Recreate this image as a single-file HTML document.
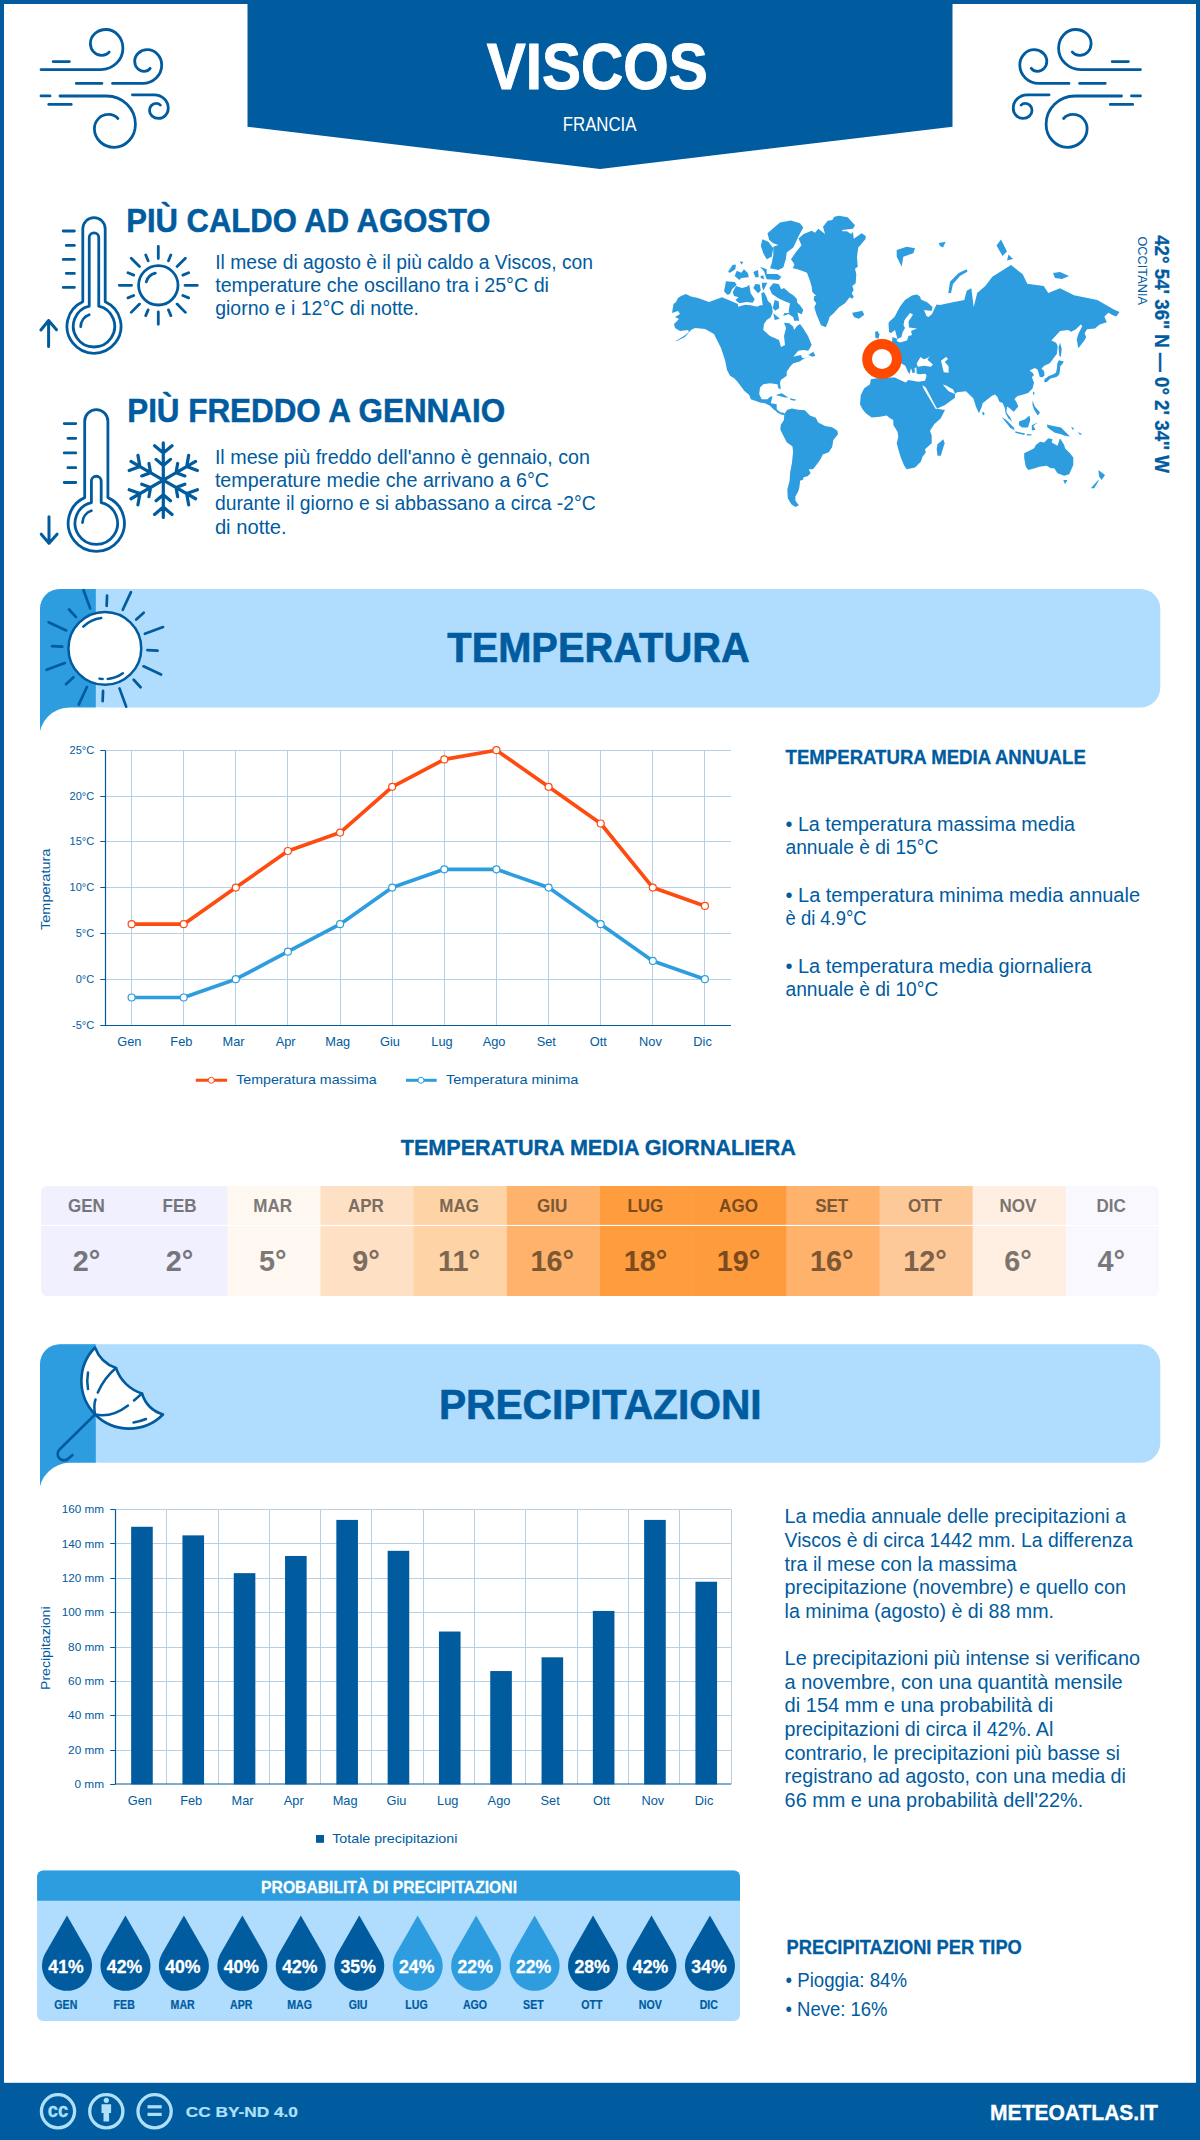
<!DOCTYPE html>
<html><head><meta charset="utf-8"><title>Viscos - Clima</title>
<style>html,body{margin:0;padding:0;background:#fff;width:1200px;height:2140px;overflow:hidden}
svg{display:block;font-family:"Liberation Sans",sans-serif}</style></head>
<body><svg width="1200" height="2140" viewBox="0 0 1200 2140">
<rect x="0" y="0" width="1200" height="2140" fill="#fff"/>
<rect x="0" y="0" width="1200" height="4" fill="#005b9f"/>
<rect x="0" y="0" width="4" height="2140" fill="#005b9f"/>
<rect x="1196" y="0" width="4" height="2140" fill="#005b9f"/>
<path d="M247.5,0 H952.5 V126.7 L600,169 L247.5,126.7Z" fill="#005b9f"/>
<text x="597.3" y="88.5" font-size="65.54" font-weight="bold" fill="#fff" stroke="#fff" stroke-width="1.00" stroke-linejoin="round" text-anchor="middle" textLength="221.0" lengthAdjust="spacingAndGlyphs">VISCOS</text>
<text x="599.6" y="130.9" font-size="20.20" fill="#fff" text-anchor="middle" textLength="73.7" lengthAdjust="spacingAndGlyphs">FRANCIA</text>
<path d="M53.1,61.6 H69.4 M41,69.6 H100.75 A22.15,21.4 0 0 0 122.9,48.2 A16.9,18.7 0 0 0 106,29.5 A15.6,13.9 0 0 0 90.4,43.4 A11.1,12 0 0 0 101.5,55.4 A9,8 0 0 0 109.2,52 M76.25,83.4 H101.9 M112.5,83.4 H142.7 A19,18.3 0 0 0 161.7,65 A14.4,15.3 0 0 0 147.3,49.7 A12.6,11.6 0 0 0 134.7,61.3 A9.3,10 0 0 0 144,71.3 A7.5,6.5 0 0 0 150.2,68.3 M41,95.9 H50 M60,96 H106.7 A28.7,28.2 0 0 1 135.4,124.2 A21.2,23.1 0 0 1 114.2,147.3 A19.8,18.55 0 0 1 94.4,128.75 A13.9,14.35 0 0 1 108.3,114.4 A11.5,10 0 0 1 117.9,118.5 M48.75,104.4 H71.25 M132.4,94.8 H154.4 A13.85,13.45 0 0 1 168.25,108.25 A9.75,10.15 0 0 1 158.5,118.4 A9,7.9 0 0 1 149.5,110.5 A6.4,7.1 0 0 1 155.9,103.4 A5.5,4.5 0 0 1 160.4,105.1 " fill="none" stroke="#005b9f" stroke-width="2.8" stroke-linecap="round"/>
<path d="M53.1,61.6 H69.4 M41,69.6 H100.75 A22.15,21.4 0 0 0 122.9,48.2 A16.9,18.7 0 0 0 106,29.5 A15.6,13.9 0 0 0 90.4,43.4 A11.1,12 0 0 0 101.5,55.4 A9,8 0 0 0 109.2,52 M76.25,83.4 H101.9 M112.5,83.4 H142.7 A19,18.3 0 0 0 161.7,65 A14.4,15.3 0 0 0 147.3,49.7 A12.6,11.6 0 0 0 134.7,61.3 A9.3,10 0 0 0 144,71.3 A7.5,6.5 0 0 0 150.2,68.3 M41,95.9 H50 M60,96 H106.7 A28.7,28.2 0 0 1 135.4,124.2 A21.2,23.1 0 0 1 114.2,147.3 A19.8,18.55 0 0 1 94.4,128.75 A13.9,14.35 0 0 1 108.3,114.4 A11.5,10 0 0 1 117.9,118.5 M48.75,104.4 H71.25 M132.4,94.8 H154.4 A13.85,13.45 0 0 1 168.25,108.25 A9.75,10.15 0 0 1 158.5,118.4 A9,7.9 0 0 1 149.5,110.5 A6.4,7.1 0 0 1 155.9,103.4 A5.5,4.5 0 0 1 160.4,105.1 " fill="none" stroke="#005b9f" stroke-width="2.8" stroke-linecap="round" transform="translate(1181.5,0) scale(-1,1)"/>
<rect x="0" y="2082.8" width="1200" height="60" fill="#005b9f"/>
<circle cx="58.0" cy="2111.3" r="16.6" fill="none" stroke="#aee0fa" stroke-width="3.3"/>
<circle cx="106.3" cy="2111.3" r="16.6" fill="none" stroke="#aee0fa" stroke-width="3.3"/>
<circle cx="154.6" cy="2111.3" r="16.6" fill="none" stroke="#aee0fa" stroke-width="3.3"/>
<text x="57.9" y="2116.8" font-size="20.54" font-weight="bold" fill="#aee0fa" stroke="#aee0fa" stroke-width="0.32" stroke-linejoin="round" text-anchor="middle" textLength="20.5" lengthAdjust="spacingAndGlyphs">cc</text>
<circle cx="106.3" cy="2100.3" r="2.6" fill="#aee0fa"/>
<path d="M101.5,2104.2 H111.1 V2113 H109.1 V2121.6 H103.5 V2113 H101.5Z" fill="#aee0fa"/>
<rect x="147.5" y="2105.2" width="14.2" height="3.2" fill="#aee0fa"/>
<rect x="147.5" y="2112.8" width="14.2" height="3.2" fill="#aee0fa"/>
<text x="185.8" y="2116.9" font-size="14.67" font-weight="bold" fill="#aee0fa" stroke="#aee0fa" stroke-width="0.22" stroke-linejoin="round" text-anchor="start" textLength="112.1" lengthAdjust="spacingAndGlyphs">CC BY-ND 4.0</text>
<text x="990.1" y="2119.7" font-size="22.60" font-weight="bold" fill="#fff" stroke="#fff" stroke-width="0.35" stroke-linejoin="round" text-anchor="start" textLength="167.8" lengthAdjust="spacingAndGlyphs">METEOATLAS.IT</text>
<path d="M82.80,301.73 V228.80 A11.20,11.20 0 0 1 105.20,228.80 V301.73 A27.00,27.00 0 1 1 82.80,301.73 Z M89.25,306.15 V237.55 A4.75,4.75 0 0 1 98.75,237.55 V306.15 A20.70,20.70 0 1 1 89.25,306.15 Z M80.70,326.70 A13,13 0 0 1 89.10,314.80 M63.20,231.00 H74.40 M66.30,245.40 H74.40 M63.20,259.40 H74.40 M66.30,273.40 H74.40 M63.20,287.40 H74.40" fill="none" stroke="#005b9f" stroke-linecap="round" stroke-linejoin="round" stroke-width="2.8"/>
<path d="M48.6,346.5 V320.5 M40.9,330 L48.6,320.5 L56.5,329.75" fill="none" stroke="#005b9f" stroke-linecap="round" stroke-linejoin="round" stroke-width="3"/>
<path d="M158.30,285.30 m-19.70,0 a19.70,19.70 0 1 0 39.40,0 a19.70,19.70 0 1 0 -39.40,0 M185.00,285.30 L197.30,285.30 M182.88,295.48 L188.60,297.85 M177.11,304.11 L185.38,312.38 M168.48,309.88 L170.85,315.60 M158.30,312.00 L158.30,324.30 M148.12,309.88 L145.75,315.60 M139.49,304.11 L131.22,312.38 M133.72,295.48 L128.00,297.85 M131.60,285.30 L119.30,285.30 M133.72,275.12 L128.00,272.75 M139.49,266.49 L131.22,258.22 M148.12,260.72 L145.75,255.00 M158.30,258.60 L158.30,246.30 M168.48,260.72 L170.85,255.00 M177.11,266.49 L185.38,258.22 M182.88,275.12 L188.60,272.75 M146.28,281.85 A12.5,12.5 0 0 1 155.28,273.17" fill="none" stroke="#005b9f" stroke-linecap="round" stroke-linejoin="round" stroke-width="2.8"/>
<path d="M84.70,497.61 V421.20 A11.60,11.60 0 0 1 107.90,421.20 V497.61 A28.10,28.10 0 1 1 84.70,497.61 Z M91.40,502.52 V481.15 A4.90,4.90 0 0 1 101.20,481.15 V502.52 A21.25,21.25 0 1 1 91.40,502.52 Z M82.50,522.50 A13,13 0 0 1 91.25,510.80 M64.20,423.60 H75.80 M67.90,438.30 H75.80 M64.20,452.90 H75.80 M67.90,467.70 H75.80 M64.20,482.50 H75.80" fill="none" stroke="#005b9f" stroke-linecap="round" stroke-linejoin="round" stroke-width="2.8"/>
<path d="M49,516.7 V543.3 M41.25,534.2 L49,543.3 L57.1,534.2" fill="none" stroke="#005b9f" stroke-linecap="round" stroke-linejoin="round" stroke-width="3"/>
<path d=" M163.30,480.10 L163.30,442.80 M163.30,453.10 L154.57,445.77 M163.30,453.10 L172.03,445.77 M163.30,465.40 L156.10,459.36 M163.30,465.40 L170.50,459.36 M163.30,480.10 L195.60,461.45 M186.68,466.60 L188.66,455.37 M186.68,466.60 L197.40,470.50 M176.03,472.75 L177.66,463.49 M176.03,472.75 L184.86,475.96 M163.30,480.10 L195.60,498.75 M186.68,493.60 L197.40,489.70 M186.68,493.60 L188.66,504.83 M176.03,487.45 L184.86,484.24 M176.03,487.45 L177.66,496.71 M163.30,480.10 L163.30,517.40 M163.30,507.10 L172.03,514.43 M163.30,507.10 L154.57,514.43 M163.30,494.80 L170.50,500.84 M163.30,494.80 L156.10,500.84 M163.30,480.10 L131.00,498.75 M139.92,493.60 L137.94,504.83 M139.92,493.60 L129.20,489.70 M150.57,487.45 L148.94,496.71 M150.57,487.45 L141.74,484.24 M163.30,480.10 L131.00,461.45 M139.92,466.60 L129.20,470.50 M139.92,466.60 L137.94,455.37 M150.57,472.75 L141.74,475.96 M150.57,472.75 L148.94,463.49" fill="none" stroke="#005b9f" stroke-linecap="round" stroke-linejoin="round" stroke-width="3.2"/>
<text x="126.2" y="231.6" font-size="32.38" font-weight="bold" fill="#005b9f" stroke="#005b9f" stroke-width="0.50" stroke-linejoin="round" text-anchor="start" textLength="364.3" lengthAdjust="spacingAndGlyphs">PIÙ CALDO AD AGOSTO</text>
<text x="215.2" y="268.6" font-size="19.30" fill="#005b9f" text-anchor="start" textLength="377.8" lengthAdjust="spacingAndGlyphs">Il mese di agosto è il più caldo a Viscos, con</text>
<text x="215.2" y="291.9" font-size="19.30" fill="#005b9f" text-anchor="start" textLength="333.8" lengthAdjust="spacingAndGlyphs">temperature che oscillano tra i 25°C di</text>
<text x="215.2" y="315.2" font-size="19.30" fill="#005b9f" text-anchor="start" textLength="203.8" lengthAdjust="spacingAndGlyphs">giorno e i 12°C di notte.</text>
<text x="127.2" y="421.6" font-size="32.38" font-weight="bold" fill="#005b9f" stroke="#005b9f" stroke-width="0.50" stroke-linejoin="round" text-anchor="start" textLength="377.9" lengthAdjust="spacingAndGlyphs">PIÙ FREDDO A GENNAIO</text>
<text x="214.9" y="463.5" font-size="19.30" fill="#005b9f" text-anchor="start" textLength="375.1" lengthAdjust="spacingAndGlyphs">Il mese più freddo dell'anno è gennaio, con</text>
<text x="214.9" y="486.8" font-size="19.30" fill="#005b9f" text-anchor="start" textLength="334.1" lengthAdjust="spacingAndGlyphs">temperature medie che arrivano a 6°C</text>
<text x="214.9" y="510.1" font-size="19.30" fill="#005b9f" text-anchor="start" textLength="380.9" lengthAdjust="spacingAndGlyphs">durante il giorno e si abbassano a circa -2°C</text>
<text x="214.9" y="533.9" font-size="19.30" fill="#005b9f" text-anchor="start" textLength="71.8" lengthAdjust="spacingAndGlyphs">di notte.</text>
<g fill="#2e9ddf">
<path d="M673.5,304.0 L676.0,302.0 L678.0,298.0 L681.0,296.0 L686.0,294.0 L691.0,296.5 L698.0,298.0 L709.0,302.0 L722.0,297.3 L728.7,300.0 L738.0,304.0 L738.0,306.7 L745.3,304.7 L750.7,305.3 L757.3,306.7 L760.0,305.3 L762.7,305.3 L761.3,293.3 L764.0,292.0 L766.7,297.3 L768.0,301.3 L770.7,303.3 L772.0,306.7 L772.7,312.0 L770.7,317.3 L766.7,320.0 L764.0,324.0 L763.3,330.0 L770.0,336.0 L779.0,340.0 L781.0,347.0 L785.0,345.0 L784.0,336.0 L786.0,328.0 L784.0,322.7 L789.3,323.3 L793.3,326.7 L794.0,330.0 L797.0,326.0 L800.0,324.0 L803.0,328.0 L808.0,336.0 L811.7,345.0 L808.3,350.8 L803.3,350.0 L798.3,350.8 L793.3,356.7 L800.8,355.0 L802.5,358.3 L805.8,357.5 L799.2,361.7 L793.3,363.3 L790.0,366.7 L786.7,371.7 L786.7,375.8 L780.8,380.0 L780.0,383.3 L780.8,389.2 L778.3,388.3 L777.5,384.2 L770.0,383.3 L763.3,384.2 L760.0,387.5 L759.2,394.2 L761.7,399.2 L767.5,399.2 L770.0,396.7 L772.5,396.2 L770.8,403.3 L776.7,404.2 L776.7,409.2 L780.8,412.5 L783.3,412.5 L785.0,415.0 L780.0,413.3 L774.2,410.0 L770.0,405.8 L765.0,403.3 L760.0,402.5 L750.8,399.2 L749.2,395.0 L744.2,390.8 L737.5,381.7 L734.2,378.3 L730.0,375.8 L727.0,370.0 L725.0,360.0 L721.0,348.0 L714.0,334.0 L705.0,329.0 L695.0,328.0 L691.0,330.0 L685.0,337.0 L677.0,341.0 L675.0,341.5 L684.0,336.0 L689.0,332.0 L688.0,330.0 L680.0,331.0 L675.0,328.0 L674.0,324.0 L679.0,319.0 L675.0,317.0 L680.0,314.0 L678.0,311.0 L672.0,313.0Z"/>
<path d="M775.0,408.5 L777.9,412.0 L780.8,413.2 L784.3,413.8 L787.3,409.7 L791.9,408.5 L798.3,409.7 L804.8,410.3 L810.0,415.5 L815.8,417.8 L818.2,422.5 L825.2,426.0 L832.2,427.2 L837.4,430.7 L838.0,434.2 L833.3,440.0 L832.2,447.0 L828.7,452.3 L822.8,454.6 L820.5,459.3 L815.8,465.7 L812.9,469.2 L808.8,469.2 L810.6,473.3 L807.7,476.2 L803.6,477.3 L803.0,479.7 L800.1,480.8 L799.5,486.7 L798.3,491.3 L795.4,496.6 L795.4,500.7 L798.9,505.3 L795.4,507.1 L791.3,504.2 L787.8,498.3 L787.3,489.6 L789.6,480.8 L790.2,472.1 L791.9,463.3 L793.1,451.7 L792.5,446.4 L786.7,442.3 L782.6,434.2 L780.3,429.5 L780.8,424.8 L783.8,420.2 L784.3,414.9 L781.0,414.5 L777.0,412.5Z"/>
<path d="M803.7,234.0 L811.7,230.7 L815.0,232.7 L818.3,228.7 L825.0,234.0 L823.0,226.7 L827.7,220.7 L832.3,220.0 L834.3,216.7 L839.0,215.7 L847.7,217.3 L855.0,225.3 L853.0,228.7 L842.3,230.0 L842.3,231.3 L847.0,231.3 L851.0,234.0 L853.0,232.0 L853.7,238.7 L861.7,233.3 L865.7,236.0 L865.7,238.7 L860.3,245.3 L858.3,247.3 L857.0,256.7 L857.7,266.7 L855.0,268.7 L856.3,274.0 L855.7,283.3 L852.3,286.0 L853.7,290.0 L851.7,293.3 L853.7,296.7 L852.3,298.7 L849.7,297.3 L845.0,303.3 L839.0,307.3 L833.7,313.3 L829.7,316.7 L827.7,322.7 L825.7,327.3 L821.0,325.3 L816.3,314.0 L814.3,307.3 L816.3,303.3 L813.7,300.0 L814.3,296.0 L816.3,296.0 L812.3,292.0 L811.7,286.7 L809.7,280.0 L807.0,272.7 L799.8,270.0 L792.8,268.0 L794.5,264.5 L791.0,259.3 L796.0,252.0 L801.5,245.3 L798.5,238.5Z"/>
<path d="M852.3,312.7 L856.3,312.0 L862.3,310.7 L864.3,314.7 L859.0,318.7 L854.3,317.3 L853.0,315.3Z"/>
<path d="M767.5,233.3 L775.0,226.7 L780.0,222.5 L790.8,220.4 L800.0,223.3 L803.3,227.5 L799.2,235.0 L793.3,247.5 L786.7,252.5 L785.8,259.2 L783.3,267.5 L778.3,270.0 L770.0,268.3 L771.7,263.3 L773.3,255.0 L773.3,246.7 L778.3,245.0 L773.3,243.3 L769.2,240.0Z"/>
<path d="M762.5,239.2 L768.3,241.7 L773.3,248.3 L771.7,256.7 L766.7,259.2 L763.3,253.3 L760.8,245.8Z"/>
<path d="M760.0,266.7 L766.7,269.3 L766.7,274.0 L777.3,274.0 L781.3,276.7 L778.7,280.0 L766.7,279.3 L764.0,271.3Z"/>
<path d="M769.3,288.0 L773.3,283.3 L778.7,284.0 L781.3,289.3 L784.0,288.0 L789.3,292.7 L793.3,295.3 L796.7,298.7 L797.3,302.7 L800.0,305.3 L803.3,310.0 L801.7,314.2 L797.5,312.5 L799.2,320.8 L794.2,320.8 L793.3,317.3 L788.7,314.0 L783.3,316.0 L784.0,313.3 L789.3,312.7 L788.7,310.7 L790.0,303.3 L785.8,301.7 L778.3,298.3 L772.0,294.0Z"/>
<path d="M732.7,292.0 L736.0,286.0 L742.0,288.0 L746.7,286.7 L749.3,284.7 L750.7,293.3 L754.7,299.3 L752.7,302.7 L746.7,302.0 L739.3,303.3 L735.3,300.0 L738.7,297.3 L734.0,296.0Z"/>
<path d="M726.0,281.3 L734.7,282.0 L736.7,284.7 L732.0,289.3 L730.0,294.0 L727.3,294.7 L724.0,291.3Z"/>
<path d="M808.3,355.0 L813.3,351.7 L815.4,355.8 L812.5,356.7Z"/>
<path d="M775.8,395.0 L781.7,393.3 L788.3,397.5 L785.0,397.5 L778.3,395.8Z"/>
<path d="M790.0,398.3 L795.8,399.5 L795.0,400.8 L790.5,400.0Z"/>
<path d="M888.5,323.0 L890.0,321.0 L894.5,317.0 L900.0,306.5 L905.0,300.0 L912.0,295.5 L917.0,294.5 L920.0,296.5 L921.0,299.5 L927.5,302.5 L932.5,307.0 L931.5,311.0 L924.0,310.0 L926.5,316.0 L928.5,317.0 L932.0,314.0 L936.5,304.5 L940.0,305.0 L952.7,302.3 L964.3,300.0 L966.7,290.7 L971.3,288.3 L973.7,307.0 L977.2,293.0 L985.3,286.0 L992.3,276.7 L1011.0,265.0 L1022.7,274.3 L1027.3,283.7 L1043.7,286.0 L1048.3,293.0 L1060.0,288.3 L1074.0,295.3 L1097.3,300.0 L1113.9,309.5 L1119.5,311.9 L1116.3,316.6 L1112.3,315.0 L1108.4,312.7 L1104.4,316.6 L1106.8,322.2 L1099.7,324.5 L1094.9,328.5 L1087.0,329.3 L1084.6,333.3 L1086.2,337.2 L1083.8,341.2 L1081.5,344.3 L1078.3,348.3 L1076.7,339.6 L1078.3,334.0 L1082.3,326.1 L1080.7,324.5 L1075.9,329.3 L1071.2,331.7 L1068.0,330.1 L1060.1,330.9 L1051.4,340.4 L1056.1,342.8 L1057.7,345.9 L1056.9,353.8 L1049.8,363.3 L1044.3,365.7 L1041.5,368.5 L1044.0,371.0 L1044.5,375.5 L1042.5,377.3 L1039.8,377.0 L1038.5,372.5 L1037.5,369.5 L1034.8,368.1 L1029.5,370.5 L1032.5,372.8 L1034.0,375.0 L1031.8,377.3 L1034.0,382.5 L1032.5,388.5 L1028.0,393.0 L1023.5,394.5 L1017.5,396.0 L1014.5,399.0 L1016.8,402.8 L1018.3,406.5 L1013.8,411.8 L1009.3,408.0 L1007.0,406.5 L1006.3,412.5 L1010.0,417.0 L1012.3,421.5 L1008.5,418.5 L1005.5,413.3 L1004.8,408.0 L1002.5,402.8 L999.5,402.0 L997.3,396.8 L995.0,394.5 L991.7,395.9 L982.6,403.2 L981.7,406.9 L978.9,413.3 L976.1,406.9 L973.4,398.6 L971.6,396.8 L966.0,391.3 L956.9,392.2 L955.0,394.0 L955.0,397.7 L945.0,405.0 L936.7,408.7 L945.0,410.0 L940.8,418.3 L934.2,424.2 L930.0,430.8 L931.7,435.8 L931.7,443.3 L925.0,449.2 L925.8,452.5 L922.5,456.7 L920.8,461.7 L915.0,467.5 L906.7,469.2 L904.2,465.8 L900.8,457.5 L898.3,449.2 L896.7,443.3 L898.3,436.7 L897.5,431.7 L893.3,425.0 L893.3,420.0 L890.0,418.3 L886.7,415.4 L880.0,416.7 L871.7,417.5 L865.8,413.3 L862.5,409.2 L860.0,404.2 L860.8,395.0 L864.2,388.3 L870.0,384.2 L870.8,379.2 L876.7,378.3 L885.8,377.5 L895.0,377.5 L898.3,379.2 L905.8,382.5 L908.3,380.0 L918.3,381.7 L925.0,380.8 L926.6,375.7 L925.5,373.8 L919.4,374.2 L916.5,373.5 L916.5,367.5 L914.5,368.0 L915.0,372.5 L912.5,373.0 L911.0,368.0 L909.6,374.0 L908.0,372.0 L905.3,365.7 L901.5,363.5 L897.0,362.0 L892.0,364.0 L888.0,372.0 L880.0,375.0 L870.0,372.0 L866.0,362.0 L870.0,352.0 L878.0,348.0 L886.0,344.0 L892.0,342.0 L892.5,337.0 L897.5,339.0 L895.0,330.0 L891.0,333.0 L889.0,332.0Z"/>
<path d="M753.3,288.0 L755.3,284.0 L760.0,284.7 L760.7,290.7 L758.0,293.3Z"/>
<path d="M762.0,282.7 L767.3,282.7 L763.3,290.7 L762.0,286.7Z"/>
<path d="M774.7,300.0 L778.7,301.3 L779.3,308.0 L775.3,310.7 L772.7,308.0Z"/>
<path d="M773.3,313.3 L780.0,318.7 L774.7,320.0Z"/>
<path d="M728.0,272.0 L732.7,264.7 L736.0,264.7 L735.3,269.3 L730.0,272.7Z"/>
<path d="M734.7,276.0 L736.7,270.7 L741.3,272.7 L744.0,269.3 L748.0,273.3 L748.7,277.3 L741.3,278.0 L739.3,280.0Z"/>
<path d="M753.3,272.0 L758.0,270.0 L758.7,277.3 L755.3,277.3Z"/>
<path d="M760.7,276.0 L763.3,275.3 L764.0,279.3 L760.7,278.0Z"/>
<path d="M740.0,261.3 L743.3,262.0 L741.3,264.7Z"/>
<path d="M757.0,285.0 L758.0,284.0 L759.0,286.0Z"/>
<path d="M896.7,250.0 L906.7,246.7 L915.0,248.3 L913.3,253.3 L903.3,256.7 L901.7,266.7 L896.7,256.7Z"/>
<path d="M938.7,243.0 L945.7,241.7 L943.0,247.5 L940.0,246.0Z"/>
<path d="M948.3,293.3 L950.0,281.7 L958.3,273.3 L966.7,269.2 L967.5,271.5 L960.0,276.0 L953.0,284.0 L951.0,293.0Z"/>
<path d="M1001.0,239.5 L1007.0,251.5 L1002.5,256.0 L996.5,245.5Z"/>
<path d="M1008.5,254.5 L1013.0,259.0 L1007.0,260.5Z"/>
<path d="M1053.0,273.0 L1060.0,272.0 L1069.0,276.0 L1062.0,279.0 L1055.0,278.0Z"/>
<path d="M1058.8,360.3 L1063.8,361.5 L1062.0,364.5 L1060.3,366.0 L1060.0,370.0 L1059.3,374.5 L1056.5,377.0 L1050.5,378.5 L1046.8,382.0 L1044.3,382.2 L1044.5,379.3 L1048.7,376.0 L1053.5,374.3 L1056.0,372.5 L1057.0,368.0 L1057.3,363.5Z"/>
<path d="M1060.1,342.8 L1061.7,349.1 L1060.9,357.0 L1059.3,355.4 L1058.5,347.5Z"/>
<path d="M982.6,411.5 L984.5,413.0 L984.0,415.5 L982.2,414.0Z"/>
<path d="M943.3,439.2 L944.6,443.3 L940.8,455.8 L937.5,455.8 L936.7,449.2 L937.5,444.2Z"/>
<path d="M1001.8,417.0 L1006.3,420.0 L1013.8,427.5 L1014.5,430.5 L1010.0,427.5 L1004.0,420.0Z"/>
<path d="M1015.3,431.3 L1025.0,433.5 L1024.3,435.0 L1015.3,432.8Z"/>
<path d="M1027.0,434.0 L1032.0,434.5 L1031.0,435.5 L1027.0,435.5Z"/>
<path d="M1019.0,421.5 L1025.0,419.3 L1029.5,415.5 L1030.3,420.0 L1028.0,427.5 L1022.0,427.5 L1019.0,425.3Z"/>
<path d="M1031.8,425.3 L1037.8,422.3 L1033.3,426.0 L1035.5,429.8 L1031.8,430.5Z"/>
<path d="M1032.5,400.5 L1034.8,406.5 L1040.0,412.5 L1037.8,415.5 L1034.0,409.5 L1032.5,405.0Z"/>
<path d="M1046.8,424.5 L1053.5,426.0 L1061.0,427.5 L1065.5,432.0 L1070.0,436.5 L1064.8,435.8 L1061.0,434.3 L1055.0,432.8 L1050.5,429.8 L1047.5,427.5Z"/>
<path d="M1033.3,391.5 L1034.5,392.5 L1034.0,395.0 L1032.8,394.0Z"/>
<path d="M1024.2,453.3 L1034.2,448.3 L1035.8,445.0 L1040.0,441.7 L1044.2,442.5 L1048.3,438.3 L1052.5,439.2 L1051.7,442.5 L1057.5,445.8 L1060.0,438.3 L1064.2,445.0 L1065.0,448.3 L1070.0,453.3 L1073.3,457.5 L1073.3,465.0 L1069.2,474.2 L1064.2,475.8 L1057.5,473.3 L1054.2,468.3 L1050.8,468.3 L1046.7,465.8 L1039.2,466.7 L1035.0,468.3 L1028.3,470.0 L1025.8,466.7 L1024.2,458.3Z"/>
<path d="M1063.3,480.0 L1067.5,480.0 L1065.0,484.2Z"/>
<path d="M1098.3,470.0 L1105.0,475.0 L1101.7,480.0 L1099.2,476.7Z"/>
<path d="M1099.2,480.0 L1094.2,488.3 L1090.8,488.3 L1097.5,480.8Z"/>
<path d="M875.0,332.0 L877.5,331.0 L879.5,334.5 L878.5,338.5 L875.5,338.0Z"/>
<path d="M1071.0,427.0 L1074.0,428.0 L1073.0,430.0Z"/>
<path d="M1078.0,432.0 L1082.0,434.0 L1080.0,435.0Z"/>
</g>
<g fill="#fff">
<path d="M910.0,313.0 L913.0,314.5 L908.5,321.5 L909.0,327.5 L917.0,328.5 L911.0,331.0 L912.0,335.0 L908.5,336.0 L907.0,340.5 L900.0,342.5 L896.5,341.0 L897.5,339.0 L901.5,337.0 L902.5,332.5 L905.0,328.0 L903.5,325.0 L904.5,320.0Z"/>
<path d="M916.7,363.5 L920.5,357.0 L923.7,359.2 L927.5,358.1 L929.7,356.0 L927.5,359.8 L932.9,364.6 L930.8,366.8 L924.3,365.7 L917.8,366.8Z"/>
<path d="M941.0,360.8 L945.9,357.0 L948.1,358.7 L944.8,361.9 L948.6,366.3 L948.6,372.8 L943.8,372.2 L942.7,367.9Z"/>
<path d="M922.5,385.0 L925.8,387.5 L935.0,405.0 L937.5,409.2 L935.5,408.8 L923.5,388.5Z"/>
<path d="M942.7,384.4 L948.6,391.3 L955.0,394.0 L953.2,389.4 L946.0,385.5Z"/>
</g>
<circle cx="882" cy="358.9" r="14.9" fill="#fff" stroke="#fe4a00" stroke-width="9.8"/>
<text x="0.2" y="-0.2" font-size="19.76" font-weight="bold" fill="#005b9f" stroke="#005b9f" stroke-width="0.30" stroke-linejoin="round" text-anchor="start" textLength="237.7" lengthAdjust="spacingAndGlyphs" transform="translate(1155,235) rotate(90)">42° 54' 36'' N — 0° 2' 34'' W</text>
<text x="0.0" y="0.0" font-size="13.00" fill="#005b9f" text-anchor="start" textLength="68.6" lengthAdjust="spacingAndGlyphs" transform="translate(1137.7,236.4) rotate(90)">OCCITANIA</text>
<path d="M60,589.00 H1140.3 A20,20 0 0 1 1160.3,609.00 V687.50 A20,20 0 0 1 1140.3,707.50 H40 V609.00 A20,20 0 0 1 60,589.00Z" fill="#b0dcfd"/>
<path d="M60,589.00 H95.8 V730.80 H40 V609.00 A20,20 0 0 1 60,589.00Z" fill="#2e9ddf"/>
<path d="M39,747.50 V738.50 A31,31 0 0 1 70,707.50 H100 V747.50Z" fill="#fff"/>
<text x="447.3" y="662.4" font-size="42.26" font-weight="bold" fill="#005b9f" stroke="#005b9f" stroke-width="0.65" stroke-linejoin="round" text-anchor="start" textLength="302.4" lengthAdjust="spacingAndGlyphs">TEMPERATURA</text>
<path d=" M147.41,650.18 L157.60,650.61 M143.49,666.34 L161.09,674.50 M133.68,679.76 L140.59,687.27 M119.49,688.41 L126.16,706.62 M103.07,690.96 L102.64,701.15 M86.91,687.04 L78.75,704.64 M73.49,677.23 L65.98,684.14 M64.84,663.04 L46.63,669.71 M62.29,646.62 L52.10,646.19 M66.21,630.46 L48.61,622.30 M76.02,617.04 L69.11,609.53 M90.21,608.39 L83.54,590.18 M106.63,605.84 L107.06,595.65 M122.79,609.76 L130.95,592.16 M136.21,619.57 L143.72,612.66 M144.86,633.76 L163.07,627.09" fill="none" stroke="#005b9f" stroke-linecap="round" stroke-width="2.7"/>
<circle cx="104.85" cy="648.40" r="36.40" fill="#fff" stroke="#005b9f" stroke-width="2.5"/>
<path d=" M83.29,626.69 A30.60,30.60 0 0 1 101.23,618.02 M107.69,678.97 A30.70,30.70 0 0 0 122.85,673.27 M99.52,678.63 A30.70,30.70 0 0 0 102.71,679.03" fill="none" stroke="#005b9f" stroke-linecap="round" stroke-width="2.5"/>
<path d="M105.5,979.5 H731.0 M105.5,933.5 H731.0 M105.5,887.5 H731.0 M105.5,841.5 H731.0 M105.5,796.5 H731.0 M105.5,750.5 H731.0 M131.5,750.5 V1025.0 M183.5,750.5 V1025.0 M235.5,750.5 V1025.0 M287.5,750.5 V1025.0 M340.5,750.5 V1025.0 M392.5,750.5 V1025.0 M444.5,750.5 V1025.0 M496.5,750.5 V1025.0 M548.5,750.5 V1025.0 M600.5,750.5 V1025.0 M652.5,750.5 V1025.0 M704.5,750.5 V1025.0 " stroke="#b7d0e4" stroke-width="1" fill="none"/>
<path d="M105.5,750.5 V1025.5 H731" stroke="#005b9f" stroke-width="1.2" fill="none"/>
<path d="M100.3,1025.5 H105.5 M100.3,979.5 H105.5 M100.3,933.5 H105.5 M100.3,887.5 H105.5 M100.3,841.5 H105.5 M100.3,796.5 H105.5 M100.3,750.5 H105.5 " stroke="#005b9f" stroke-width="1.2" fill="none"/>
<text x="94.1" y="1028.6" font-size="11.00" fill="#005b9f" text-anchor="end">-5°C</text>
<text x="94.1" y="982.8" font-size="11.00" fill="#005b9f" text-anchor="end">0°C</text>
<text x="94.1" y="937.0" font-size="11.00" fill="#005b9f" text-anchor="end">5°C</text>
<text x="94.1" y="891.2" font-size="11.00" fill="#005b9f" text-anchor="end">10°C</text>
<text x="94.1" y="845.4" font-size="11.00" fill="#005b9f" text-anchor="end">15°C</text>
<text x="94.1" y="799.6" font-size="11.00" fill="#005b9f" text-anchor="end">20°C</text>
<text x="94.1" y="753.8" font-size="11.00" fill="#005b9f" text-anchor="end">25°C</text>
<text x="129.3" y="1045.8" font-size="12.80" fill="#005b9f" text-anchor="middle">Gen</text>
<text x="181.4" y="1045.8" font-size="12.80" fill="#005b9f" text-anchor="middle">Feb</text>
<text x="233.5" y="1045.8" font-size="12.80" fill="#005b9f" text-anchor="middle">Mar</text>
<text x="285.6" y="1045.8" font-size="12.80" fill="#005b9f" text-anchor="middle">Apr</text>
<text x="337.8" y="1045.8" font-size="12.80" fill="#005b9f" text-anchor="middle">Mag</text>
<text x="389.9" y="1045.8" font-size="12.80" fill="#005b9f" text-anchor="middle">Giu</text>
<text x="442.0" y="1045.8" font-size="12.80" fill="#005b9f" text-anchor="middle">Lug</text>
<text x="494.1" y="1045.8" font-size="12.80" fill="#005b9f" text-anchor="middle">Ago</text>
<text x="546.3" y="1045.8" font-size="12.80" fill="#005b9f" text-anchor="middle">Set</text>
<text x="598.4" y="1045.8" font-size="12.80" fill="#005b9f" text-anchor="middle">Ott</text>
<text x="650.5" y="1045.8" font-size="12.80" fill="#005b9f" text-anchor="middle">Nov</text>
<text x="702.6" y="1045.8" font-size="12.80" fill="#005b9f" text-anchor="middle">Dic</text>
<text x="0.0" y="0.0" font-size="13.20" fill="#005b9f" text-anchor="middle" textLength="81.4" lengthAdjust="spacingAndGlyphs" transform="translate(50.1,889.3) rotate(-90)">Temperatura</text>
<polyline points="131.6,924.2 183.7,924.2 235.8,887.6 287.9,851.0 340.1,832.6 392.2,786.8 444.3,759.4 496.4,750.2 548.6,786.8 600.7,823.5 652.8,887.6 704.9,905.9" fill="none" stroke="#fe4b10" stroke-width="3.7" stroke-linejoin="round"/>
<circle cx="131.6" cy="924.2" r="3.5" fill="#fff" stroke="#fe4b10" stroke-width="1.2"/>
<circle cx="183.7" cy="924.2" r="3.5" fill="#fff" stroke="#fe4b10" stroke-width="1.2"/>
<circle cx="235.8" cy="887.6" r="3.5" fill="#fff" stroke="#fe4b10" stroke-width="1.2"/>
<circle cx="287.9" cy="851.0" r="3.5" fill="#fff" stroke="#fe4b10" stroke-width="1.2"/>
<circle cx="340.1" cy="832.6" r="3.5" fill="#fff" stroke="#fe4b10" stroke-width="1.2"/>
<circle cx="392.2" cy="786.8" r="3.5" fill="#fff" stroke="#fe4b10" stroke-width="1.2"/>
<circle cx="444.3" cy="759.4" r="3.5" fill="#fff" stroke="#fe4b10" stroke-width="1.2"/>
<circle cx="496.4" cy="750.2" r="3.5" fill="#fff" stroke="#fe4b10" stroke-width="1.2"/>
<circle cx="548.6" cy="786.8" r="3.5" fill="#fff" stroke="#fe4b10" stroke-width="1.2"/>
<circle cx="600.7" cy="823.5" r="3.5" fill="#fff" stroke="#fe4b10" stroke-width="1.2"/>
<circle cx="652.8" cy="887.6" r="3.5" fill="#fff" stroke="#fe4b10" stroke-width="1.2"/>
<circle cx="704.9" cy="905.9" r="3.5" fill="#fff" stroke="#fe4b10" stroke-width="1.2"/>
<polyline points="131.6,997.5 183.7,997.5 235.8,979.2 287.9,951.7 340.1,924.2 392.2,887.6 444.3,869.3 496.4,869.3 548.6,887.6 600.7,924.2 652.8,960.9 704.9,979.2" fill="none" stroke="#2e9ddf" stroke-width="3.7" stroke-linejoin="round"/>
<circle cx="131.6" cy="997.5" r="3.5" fill="#fff" stroke="#2e9ddf" stroke-width="1.2"/>
<circle cx="183.7" cy="997.5" r="3.5" fill="#fff" stroke="#2e9ddf" stroke-width="1.2"/>
<circle cx="235.8" cy="979.2" r="3.5" fill="#fff" stroke="#2e9ddf" stroke-width="1.2"/>
<circle cx="287.9" cy="951.7" r="3.5" fill="#fff" stroke="#2e9ddf" stroke-width="1.2"/>
<circle cx="340.1" cy="924.2" r="3.5" fill="#fff" stroke="#2e9ddf" stroke-width="1.2"/>
<circle cx="392.2" cy="887.6" r="3.5" fill="#fff" stroke="#2e9ddf" stroke-width="1.2"/>
<circle cx="444.3" cy="869.3" r="3.5" fill="#fff" stroke="#2e9ddf" stroke-width="1.2"/>
<circle cx="496.4" cy="869.3" r="3.5" fill="#fff" stroke="#2e9ddf" stroke-width="1.2"/>
<circle cx="548.6" cy="887.6" r="3.5" fill="#fff" stroke="#2e9ddf" stroke-width="1.2"/>
<circle cx="600.7" cy="924.2" r="3.5" fill="#fff" stroke="#2e9ddf" stroke-width="1.2"/>
<circle cx="652.8" cy="960.9" r="3.5" fill="#fff" stroke="#2e9ddf" stroke-width="1.2"/>
<circle cx="704.9" cy="979.2" r="3.5" fill="#fff" stroke="#2e9ddf" stroke-width="1.2"/>
<path d="M195.8,1080.3 H227.1" stroke="#fe4b10" stroke-width="3"/>
<circle cx="211.25" cy="1080.3" r="3" fill="#fff" stroke="#fe4b10" stroke-width="1"/>
<text x="236.2" y="1083.9" font-size="12.40" fill="#005b9f" text-anchor="start" textLength="140.5" lengthAdjust="spacingAndGlyphs">Temperatura massima</text>
<path d="M406,1080.3 H436.7" stroke="#2e9ddf" stroke-width="3"/>
<circle cx="421" cy="1080.3" r="3" fill="#fff" stroke="#2e9ddf" stroke-width="1"/>
<text x="446.0" y="1083.9" font-size="12.40" fill="#005b9f" text-anchor="start" textLength="132.3" lengthAdjust="spacingAndGlyphs">Temperatura minima</text>
<text x="785.6" y="763.6" font-size="19.37" font-weight="bold" fill="#005b9f" stroke="#005b9f" stroke-width="0.30" stroke-linejoin="round" text-anchor="start" textLength="300.2" lengthAdjust="spacingAndGlyphs">TEMPERATURA MEDIA ANNUALE</text>
<text x="785.5" y="830.7" font-size="19.30" fill="#005b9f" text-anchor="start" textLength="289.5" lengthAdjust="spacingAndGlyphs">• La temperatura massima media</text>
<text x="785.5" y="854.2" font-size="19.30" fill="#005b9f" text-anchor="start" textLength="152.8" lengthAdjust="spacingAndGlyphs">annuale è di 15°C</text>
<text x="785.5" y="901.7" font-size="19.30" fill="#005b9f" text-anchor="start" textLength="354.5" lengthAdjust="spacingAndGlyphs">• La temperatura minima media annuale</text>
<text x="785.5" y="925.2" font-size="19.30" fill="#005b9f" text-anchor="start" textLength="81.2" lengthAdjust="spacingAndGlyphs">è di 4.9°C</text>
<text x="785.5" y="972.7" font-size="19.30" fill="#005b9f" text-anchor="start" textLength="306.2" lengthAdjust="spacingAndGlyphs">• La temperatura media giornaliera</text>
<text x="785.5" y="996.2" font-size="19.30" fill="#005b9f" text-anchor="start" textLength="152.8" lengthAdjust="spacingAndGlyphs">annuale è di 10°C</text>
<text x="400.7" y="1154.6" font-size="22.21" font-weight="bold" fill="#005b9f" stroke="#005b9f" stroke-width="0.34" stroke-linejoin="round" text-anchor="start" textLength="395.2" lengthAdjust="spacingAndGlyphs">TEMPERATURA MEDIA GIORNALIERA</text>
<clipPath id="tclip"><rect x="41" y="1186" width="1118" height="110" rx="6" ry="6"/></clipPath>
<g clip-path="url(#tclip)">
<rect x="41.00" y="1186" width="93.77" height="110" fill="#f0f0fe"/>
<rect x="134.17" y="1186" width="93.77" height="110" fill="#f0f0fe"/>
<rect x="227.33" y="1186" width="93.77" height="110" fill="#fef8f1"/>
<rect x="320.50" y="1186" width="93.77" height="110" fill="#fee0c4"/>
<rect x="413.67" y="1186" width="93.77" height="110" fill="#fed3a6"/>
<rect x="506.83" y="1186" width="93.77" height="110" fill="#feb26b"/>
<rect x="600.00" y="1186" width="93.77" height="110" fill="#fe9c3e"/>
<rect x="693.17" y="1186" width="93.77" height="110" fill="#fe9b3c"/>
<rect x="786.33" y="1186" width="93.77" height="110" fill="#feb26b"/>
<rect x="879.50" y="1186" width="93.77" height="110" fill="#fec998"/>
<rect x="972.67" y="1186" width="93.77" height="110" fill="#feefe2"/>
<rect x="1065.83" y="1186" width="93.77" height="110" fill="#f8f8fe"/>
</g>
<rect x="41" y="1224.9" width="1118" height="1.1" fill="#fff"/>
<text x="86.4" y="1211.8" font-size="18.30" font-weight="bold" fill="#75757c" text-anchor="middle" textLength="36.9" lengthAdjust="spacingAndGlyphs">GEN</text>
<text x="86.4" y="1270.8" font-size="28.80" font-weight="bold" fill="#75757c" text-anchor="middle">2°</text>
<text x="179.6" y="1211.8" font-size="18.30" font-weight="bold" fill="#75757c" text-anchor="middle" textLength="34.0" lengthAdjust="spacingAndGlyphs">FEB</text>
<text x="179.6" y="1270.8" font-size="28.80" font-weight="bold" fill="#75757c" text-anchor="middle">2°</text>
<text x="272.7" y="1211.8" font-size="18.30" font-weight="bold" fill="#7c7976" text-anchor="middle" textLength="38.8" lengthAdjust="spacingAndGlyphs">MAR</text>
<text x="272.7" y="1270.8" font-size="28.80" font-weight="bold" fill="#7c7976" text-anchor="middle">5°</text>
<text x="365.9" y="1211.8" font-size="18.30" font-weight="bold" fill="#7c6d60" text-anchor="middle" textLength="35.9" lengthAdjust="spacingAndGlyphs">APR</text>
<text x="365.9" y="1270.8" font-size="28.80" font-weight="bold" fill="#7c6d60" text-anchor="middle">9°</text>
<text x="459.1" y="1211.8" font-size="18.30" font-weight="bold" fill="#7c6751" text-anchor="middle" textLength="39.7" lengthAdjust="spacingAndGlyphs">MAG</text>
<text x="459.1" y="1270.8" font-size="28.80" font-weight="bold" fill="#7c6751" text-anchor="middle">11°</text>
<text x="552.2" y="1211.8" font-size="18.30" font-weight="bold" fill="#7c5734" text-anchor="middle" textLength="30.3" lengthAdjust="spacingAndGlyphs">GIU</text>
<text x="552.2" y="1270.8" font-size="28.80" font-weight="bold" fill="#7c5734" text-anchor="middle">16°</text>
<text x="645.4" y="1211.8" font-size="18.30" font-weight="bold" fill="#7c4c1e" text-anchor="middle" textLength="35.9" lengthAdjust="spacingAndGlyphs">LUG</text>
<text x="645.4" y="1270.8" font-size="28.80" font-weight="bold" fill="#7c4c1e" text-anchor="middle">18°</text>
<text x="738.5" y="1211.8" font-size="18.30" font-weight="bold" fill="#7c4b1d" text-anchor="middle" textLength="38.8" lengthAdjust="spacingAndGlyphs">AGO</text>
<text x="738.5" y="1270.8" font-size="28.80" font-weight="bold" fill="#7c4b1d" text-anchor="middle">19°</text>
<text x="831.7" y="1211.8" font-size="18.30" font-weight="bold" fill="#7c5734" text-anchor="middle" textLength="33.1" lengthAdjust="spacingAndGlyphs">SET</text>
<text x="831.7" y="1270.8" font-size="28.80" font-weight="bold" fill="#7c5734" text-anchor="middle">16°</text>
<text x="924.9" y="1211.8" font-size="18.30" font-weight="bold" fill="#7c624a" text-anchor="middle" textLength="34.0" lengthAdjust="spacingAndGlyphs">OTT</text>
<text x="924.9" y="1270.8" font-size="28.80" font-weight="bold" fill="#7c624a" text-anchor="middle">12°</text>
<text x="1018.0" y="1211.8" font-size="18.30" font-weight="bold" fill="#7c756e" text-anchor="middle" textLength="36.9" lengthAdjust="spacingAndGlyphs">NOV</text>
<text x="1018.0" y="1270.8" font-size="28.80" font-weight="bold" fill="#7c756e" text-anchor="middle">6°</text>
<text x="1111.2" y="1211.8" font-size="18.30" font-weight="bold" fill="#79797c" text-anchor="middle" textLength="29.3" lengthAdjust="spacingAndGlyphs">DIC</text>
<text x="1111.2" y="1270.8" font-size="28.80" font-weight="bold" fill="#79797c" text-anchor="middle">4°</text>
<path d="M60,1344.20 H1140.3 A20,20 0 0 1 1160.3,1364.20 V1442.80 A20,20 0 0 1 1140.3,1462.80 H40 V1364.20 A20,20 0 0 1 60,1344.20Z" fill="#b0dcfd"/>
<path d="M60,1344.20 H95.8 V1486.10 H40 V1364.20 A20,20 0 0 1 60,1344.20Z" fill="#2e9ddf"/>
<path d="M39,1502.80 V1493.80 A31,31 0 0 1 70,1462.80 H100 V1502.80Z" fill="#fff"/>
<text x="438.9" y="1418.7" font-size="42.65" font-weight="bold" fill="#005b9f" stroke="#005b9f" stroke-width="0.65" stroke-linejoin="round" text-anchor="start" textLength="322.7" lengthAdjust="spacingAndGlyphs">PRECIPITAZIONI</text>
<path d="M95.0,1347.5 A47.8,47.8 0 0 0 95.2,1414.5 A47.8,47.8 0 0 0 163.0,1414.5 A32,32 0 0 1 142.0,1393.5 A40,40 0 0 1 116.0,1368.0 A34,34 0 0 1 95.0,1347.5 Z" fill="#fff" stroke="#005b9f" stroke-linecap="round" stroke-linejoin="round" stroke-width="2.6"/>
<path d="M95,1414.5 Q93.5,1405 95.5,1399.5" fill="none" stroke="#005b9f" stroke-linecap="round" stroke-linejoin="round" stroke-width="2.5"/>
<path d="M97.8,1392.6 Q104,1378 116,1368" fill="none" stroke="#005b9f" stroke-linecap="round" stroke-linejoin="round" stroke-width="2.5"/>
<path d="M95,1414.5 Q112,1418 128,1405.5" fill="none" stroke="#005b9f" stroke-linecap="round" stroke-linejoin="round" stroke-width="2.5"/>
<path d="M134,1400.5 L142,1393.5" fill="none" stroke="#005b9f" stroke-linecap="round" stroke-linejoin="round" stroke-width="2.5"/>
<path d="M88,1372.5 Q86.5,1381 88,1389" fill="none" stroke="#005b9f" stroke-linecap="round" stroke-linejoin="round" stroke-width="2.5"/>
<path d="M133.5,1422.5 Q140,1421.5 146,1419" fill="none" stroke="#005b9f" stroke-linecap="round" stroke-linejoin="round" stroke-width="2.5"/>
<path d="M95,1414.5 L59.5,1449.5 A6.2,6.2 0 0 0 68.5,1458.5 L72.5,1455" fill="none" stroke="#005b9f" stroke-linecap="round" stroke-linejoin="round" stroke-width="2.6"/>
<path d="M115.4,1750.5 H731.0 M115.4,1715.5 H731.0 M115.4,1681.5 H731.0 M115.4,1647.5 H731.0 M115.4,1612.5 H731.0 M115.4,1578.5 H731.0 M115.4,1543.5 H731.0 M115.4,1509.5 H731.0 M166.5,1509.5 V1784.4 M218.5,1509.5 V1784.4 M269.5,1509.5 V1784.4 M320.5,1509.5 V1784.4 M371.5,1509.5 V1784.4 M423.5,1509.5 V1784.4 M474.5,1509.5 V1784.4 M525.5,1509.5 V1784.4 M577.5,1509.5 V1784.4 M628.5,1509.5 V1784.4 M679.5,1509.5 V1784.4 M731.5,1509.5 V1784.4 " stroke="#b7d0e4" stroke-width="1" fill="none"/>
<rect x="131.15" y="1526.78" width="21.6" height="257.62" fill="#005b9f"/>
<rect x="182.45" y="1535.36" width="21.6" height="249.04" fill="#005b9f"/>
<rect x="233.75" y="1573.15" width="21.6" height="211.25" fill="#005b9f"/>
<rect x="285.05" y="1555.97" width="21.6" height="228.43" fill="#005b9f"/>
<rect x="336.35" y="1519.91" width="21.6" height="264.49" fill="#005b9f"/>
<rect x="387.65" y="1550.82" width="21.6" height="233.58" fill="#005b9f"/>
<rect x="438.95" y="1631.54" width="21.6" height="152.86" fill="#005b9f"/>
<rect x="490.25" y="1671.05" width="21.6" height="113.36" fill="#005b9f"/>
<rect x="541.55" y="1657.31" width="21.6" height="127.10" fill="#005b9f"/>
<rect x="592.85" y="1610.93" width="21.6" height="173.47" fill="#005b9f"/>
<rect x="644.15" y="1519.91" width="21.6" height="264.49" fill="#005b9f"/>
<rect x="695.45" y="1581.74" width="21.6" height="202.66" fill="#005b9f"/>
<path d="M115.5,1509.5 V1784.0 H731" stroke="#005b9f" stroke-width="1.2" fill="none"/>
<path d="M110.2,1784.5 H115.5 M110.2,1750.5 H115.5 M110.2,1715.5 H115.5 M110.2,1681.5 H115.5 M110.2,1647.5 H115.5 M110.2,1612.5 H115.5 M110.2,1578.5 H115.5 M110.2,1543.5 H115.5 M110.2,1509.5 H115.5 " stroke="#005b9f" stroke-width="1.2" fill="none"/>
<text x="104.1" y="1788.1" font-size="11.20" fill="#005b9f" text-anchor="end" textLength="29.6" lengthAdjust="spacingAndGlyphs">0 mm</text>
<text x="104.1" y="1753.8" font-size="11.20" fill="#005b9f" text-anchor="end" textLength="36.0" lengthAdjust="spacingAndGlyphs">20 mm</text>
<text x="104.1" y="1719.4" font-size="11.20" fill="#005b9f" text-anchor="end" textLength="36.0" lengthAdjust="spacingAndGlyphs">40 mm</text>
<text x="104.1" y="1685.1" font-size="11.20" fill="#005b9f" text-anchor="end" textLength="36.0" lengthAdjust="spacingAndGlyphs">60 mm</text>
<text x="104.1" y="1650.7" font-size="11.20" fill="#005b9f" text-anchor="end" textLength="36.0" lengthAdjust="spacingAndGlyphs">80 mm</text>
<text x="104.1" y="1616.4" font-size="11.20" fill="#005b9f" text-anchor="end" textLength="42.4" lengthAdjust="spacingAndGlyphs">100 mm</text>
<text x="104.1" y="1582.0" font-size="11.20" fill="#005b9f" text-anchor="end" textLength="42.4" lengthAdjust="spacingAndGlyphs">120 mm</text>
<text x="104.1" y="1547.7" font-size="11.20" fill="#005b9f" text-anchor="end" textLength="42.4" lengthAdjust="spacingAndGlyphs">140 mm</text>
<text x="104.1" y="1513.3" font-size="11.20" fill="#005b9f" text-anchor="end" textLength="42.4" lengthAdjust="spacingAndGlyphs">160 mm</text>
<text x="139.9" y="1804.7" font-size="12.80" fill="#005b9f" text-anchor="middle">Gen</text>
<text x="191.2" y="1804.7" font-size="12.80" fill="#005b9f" text-anchor="middle">Feb</text>
<text x="242.5" y="1804.7" font-size="12.80" fill="#005b9f" text-anchor="middle">Mar</text>
<text x="293.8" y="1804.7" font-size="12.80" fill="#005b9f" text-anchor="middle">Apr</text>
<text x="345.1" y="1804.7" font-size="12.80" fill="#005b9f" text-anchor="middle">Mag</text>
<text x="396.4" y="1804.7" font-size="12.80" fill="#005b9f" text-anchor="middle">Giu</text>
<text x="447.7" y="1804.7" font-size="12.80" fill="#005b9f" text-anchor="middle">Lug</text>
<text x="499.0" y="1804.7" font-size="12.80" fill="#005b9f" text-anchor="middle">Ago</text>
<text x="550.2" y="1804.7" font-size="12.80" fill="#005b9f" text-anchor="middle">Set</text>
<text x="601.5" y="1804.7" font-size="12.80" fill="#005b9f" text-anchor="middle">Ott</text>
<text x="652.9" y="1804.7" font-size="12.80" fill="#005b9f" text-anchor="middle">Nov</text>
<text x="704.1" y="1804.7" font-size="12.80" fill="#005b9f" text-anchor="middle">Dic</text>
<text x="0.0" y="0.0" font-size="13.20" fill="#005b9f" text-anchor="middle" textLength="83.5" lengthAdjust="spacingAndGlyphs" transform="translate(49.9,1648.2) rotate(-90)">Precipitazioni</text>
<rect x="316" y="1835" width="8" height="7.8" fill="#005b9f"/>
<text x="332.2" y="1842.8" font-size="12.80" fill="#005b9f" text-anchor="start" textLength="125.2" lengthAdjust="spacingAndGlyphs">Totale precipitazioni</text>
<text x="784.6" y="1523.3" font-size="19.30" fill="#005b9f" text-anchor="start" textLength="341.4" lengthAdjust="spacingAndGlyphs">La media annuale delle precipitazioni a</text>
<text x="784.6" y="1546.9" font-size="19.30" fill="#005b9f" text-anchor="start" textLength="348.1" lengthAdjust="spacingAndGlyphs">Viscos è di circa 1442 mm. La differenza</text>
<text x="784.6" y="1570.6" font-size="19.30" fill="#005b9f" text-anchor="start" textLength="232.1" lengthAdjust="spacingAndGlyphs">tra il mese con la massima</text>
<text x="784.6" y="1594.2" font-size="19.30" fill="#005b9f" text-anchor="start" textLength="341.4" lengthAdjust="spacingAndGlyphs">precipitazione (novembre) e quello con</text>
<text x="784.6" y="1617.9" font-size="19.30" fill="#005b9f" text-anchor="start" textLength="269.4" lengthAdjust="spacingAndGlyphs">la minima (agosto) è di 88 mm.</text>
<text x="784.6" y="1665.1" font-size="19.30" fill="#005b9f" text-anchor="start" textLength="355.4" lengthAdjust="spacingAndGlyphs">Le precipitazioni più intense si verificano</text>
<text x="784.6" y="1688.8" font-size="19.30" fill="#005b9f" text-anchor="start" textLength="338.1" lengthAdjust="spacingAndGlyphs">a novembre, con una quantità mensile</text>
<text x="784.6" y="1712.4" font-size="19.30" fill="#005b9f" text-anchor="start" textLength="268.7" lengthAdjust="spacingAndGlyphs">di 154 mm e una probabilità di</text>
<text x="784.6" y="1736.1" font-size="19.30" fill="#005b9f" text-anchor="start" textLength="268.7" lengthAdjust="spacingAndGlyphs">precipitazioni di circa il 42%. Al</text>
<text x="784.6" y="1759.7" font-size="19.30" fill="#005b9f" text-anchor="start" textLength="335.4" lengthAdjust="spacingAndGlyphs">contrario, le precipitazioni più basse si</text>
<text x="784.6" y="1783.3" font-size="19.30" fill="#005b9f" text-anchor="start" textLength="341.4" lengthAdjust="spacingAndGlyphs">registrano ad agosto, con una media di</text>
<text x="784.6" y="1807.0" font-size="19.30" fill="#005b9f" text-anchor="start" textLength="298.7" lengthAdjust="spacingAndGlyphs">66 mm e una probabilità dell'22%.</text>
<text x="786.6" y="1953.6" font-size="19.37" font-weight="bold" fill="#005b9f" stroke="#005b9f" stroke-width="0.30" stroke-linejoin="round" text-anchor="start" textLength="235.2" lengthAdjust="spacingAndGlyphs">PRECIPITAZIONI PER TIPO</text>
<text x="785.5" y="1987.0" font-size="19.30" fill="#005b9f" text-anchor="start" textLength="121.5" lengthAdjust="spacingAndGlyphs">• Pioggia: 84%</text>
<text x="785.5" y="2015.5" font-size="19.30" fill="#005b9f" text-anchor="start" textLength="102.0" lengthAdjust="spacingAndGlyphs">• Neve: 16%</text>
<path d="M43.1,1870.4 H734 A6,6 0 0 1 740,1876.4 V2014.9 A6,6 0 0 1 734,2020.9 H43.1 A6,6 0 0 1 37.1,2014.9 V1876.4 A6,6 0 0 1 43.1,1870.4Z" fill="#b0dcfd"/>
<path d="M43.1,1870.4 H734 A6,6 0 0 1 740,1876.4 V1900.8 H37.1 V1876.4 A6,6 0 0 1 43.1,1870.4Z" fill="#2e9ddf"/>
<text x="261.1" y="1892.8" font-size="16.92" font-weight="bold" fill="#fff" stroke="#fff" stroke-width="0.26" stroke-linejoin="round" text-anchor="start" textLength="255.9" lengthAdjust="spacingAndGlyphs">PROBABILITÀ DI PRECIPITAZIONI</text>
<path d="M67.00,1915.50 L88.69,1953.31 A25.0,25.0 0 1 1 45.31,1953.31 Z" fill="#005b9f"/>
<text x="66.0" y="1972.6" font-size="18.10" font-weight="bold" fill="#fff" stroke="#fff" stroke-width="0.28" stroke-linejoin="round" text-anchor="middle" textLength="35.3" lengthAdjust="spacingAndGlyphs">41%</text>
<text x="65.8" y="2008.7" font-size="12.03" font-weight="bold" fill="#005b9f" stroke="#005b9f" stroke-width="0.18" stroke-linejoin="round" text-anchor="middle" textLength="23.0" lengthAdjust="spacingAndGlyphs">GEN</text>
<path d="M125.45,1915.50 L147.14,1953.31 A25.0,25.0 0 1 1 103.76,1953.31 Z" fill="#005b9f"/>
<text x="124.5" y="1972.6" font-size="18.10" font-weight="bold" fill="#fff" stroke="#fff" stroke-width="0.28" stroke-linejoin="round" text-anchor="middle" textLength="35.3" lengthAdjust="spacingAndGlyphs">42%</text>
<text x="124.2" y="2008.7" font-size="12.03" font-weight="bold" fill="#005b9f" stroke="#005b9f" stroke-width="0.18" stroke-linejoin="round" text-anchor="middle" textLength="21.2" lengthAdjust="spacingAndGlyphs">FEB</text>
<path d="M183.90,1915.50 L205.59,1953.31 A25.0,25.0 0 1 1 162.21,1953.31 Z" fill="#005b9f"/>
<text x="182.9" y="1972.6" font-size="18.10" font-weight="bold" fill="#fff" stroke="#fff" stroke-width="0.28" stroke-linejoin="round" text-anchor="middle" textLength="35.3" lengthAdjust="spacingAndGlyphs">40%</text>
<text x="182.7" y="2008.7" font-size="12.03" font-weight="bold" fill="#005b9f" stroke="#005b9f" stroke-width="0.18" stroke-linejoin="round" text-anchor="middle" textLength="24.2" lengthAdjust="spacingAndGlyphs">MAR</text>
<path d="M242.35,1915.50 L264.04,1953.31 A25.0,25.0 0 1 1 220.66,1953.31 Z" fill="#005b9f"/>
<text x="241.4" y="1972.6" font-size="18.10" font-weight="bold" fill="#fff" stroke="#fff" stroke-width="0.28" stroke-linejoin="round" text-anchor="middle" textLength="35.3" lengthAdjust="spacingAndGlyphs">40%</text>
<text x="241.2" y="2008.7" font-size="12.03" font-weight="bold" fill="#005b9f" stroke="#005b9f" stroke-width="0.18" stroke-linejoin="round" text-anchor="middle" textLength="22.4" lengthAdjust="spacingAndGlyphs">APR</text>
<path d="M300.80,1915.50 L322.49,1953.31 A25.0,25.0 0 1 1 279.11,1953.31 Z" fill="#005b9f"/>
<text x="299.8" y="1972.6" font-size="18.10" font-weight="bold" fill="#fff" stroke="#fff" stroke-width="0.28" stroke-linejoin="round" text-anchor="middle" textLength="35.3" lengthAdjust="spacingAndGlyphs">42%</text>
<text x="299.6" y="2008.7" font-size="12.03" font-weight="bold" fill="#005b9f" stroke="#005b9f" stroke-width="0.18" stroke-linejoin="round" text-anchor="middle" textLength="24.8" lengthAdjust="spacingAndGlyphs">MAG</text>
<path d="M359.25,1915.50 L380.94,1953.31 A25.0,25.0 0 1 1 337.56,1953.31 Z" fill="#005b9f"/>
<text x="358.2" y="1972.6" font-size="18.10" font-weight="bold" fill="#fff" stroke="#fff" stroke-width="0.28" stroke-linejoin="round" text-anchor="middle" textLength="35.3" lengthAdjust="spacingAndGlyphs">35%</text>
<text x="358.1" y="2008.7" font-size="12.03" font-weight="bold" fill="#005b9f" stroke="#005b9f" stroke-width="0.18" stroke-linejoin="round" text-anchor="middle" textLength="18.8" lengthAdjust="spacingAndGlyphs">GIU</text>
<path d="M417.70,1915.50 L439.39,1953.31 A25.0,25.0 0 1 1 396.01,1953.31 Z" fill="#2e9ddf"/>
<text x="416.7" y="1972.6" font-size="18.10" font-weight="bold" fill="#fff" stroke="#fff" stroke-width="0.28" stroke-linejoin="round" text-anchor="middle" textLength="35.3" lengthAdjust="spacingAndGlyphs">24%</text>
<text x="416.5" y="2008.7" font-size="12.03" font-weight="bold" fill="#005b9f" stroke="#005b9f" stroke-width="0.18" stroke-linejoin="round" text-anchor="middle" textLength="22.4" lengthAdjust="spacingAndGlyphs">LUG</text>
<path d="M476.15,1915.50 L497.84,1953.31 A25.0,25.0 0 1 1 454.46,1953.31 Z" fill="#2e9ddf"/>
<text x="475.2" y="1972.6" font-size="18.10" font-weight="bold" fill="#fff" stroke="#fff" stroke-width="0.28" stroke-linejoin="round" text-anchor="middle" textLength="35.3" lengthAdjust="spacingAndGlyphs">22%</text>
<text x="475.0" y="2008.7" font-size="12.03" font-weight="bold" fill="#005b9f" stroke="#005b9f" stroke-width="0.18" stroke-linejoin="round" text-anchor="middle" textLength="24.2" lengthAdjust="spacingAndGlyphs">AGO</text>
<path d="M534.60,1915.50 L556.29,1953.31 A25.0,25.0 0 1 1 512.91,1953.31 Z" fill="#2e9ddf"/>
<text x="533.6" y="1972.6" font-size="18.10" font-weight="bold" fill="#fff" stroke="#fff" stroke-width="0.28" stroke-linejoin="round" text-anchor="middle" textLength="35.3" lengthAdjust="spacingAndGlyphs">22%</text>
<text x="533.4" y="2008.7" font-size="12.03" font-weight="bold" fill="#005b9f" stroke="#005b9f" stroke-width="0.18" stroke-linejoin="round" text-anchor="middle" textLength="20.6" lengthAdjust="spacingAndGlyphs">SET</text>
<path d="M593.05,1915.50 L614.74,1953.31 A25.0,25.0 0 1 1 571.36,1953.31 Z" fill="#005b9f"/>
<text x="592.1" y="1972.6" font-size="18.10" font-weight="bold" fill="#fff" stroke="#fff" stroke-width="0.28" stroke-linejoin="round" text-anchor="middle" textLength="35.3" lengthAdjust="spacingAndGlyphs">28%</text>
<text x="591.9" y="2008.7" font-size="12.03" font-weight="bold" fill="#005b9f" stroke="#005b9f" stroke-width="0.18" stroke-linejoin="round" text-anchor="middle" textLength="21.2" lengthAdjust="spacingAndGlyphs">OTT</text>
<path d="M651.50,1915.50 L673.19,1953.31 A25.0,25.0 0 1 1 629.81,1953.31 Z" fill="#005b9f"/>
<text x="650.5" y="1972.6" font-size="18.10" font-weight="bold" fill="#fff" stroke="#fff" stroke-width="0.28" stroke-linejoin="round" text-anchor="middle" textLength="35.3" lengthAdjust="spacingAndGlyphs">42%</text>
<text x="650.3" y="2008.7" font-size="12.03" font-weight="bold" fill="#005b9f" stroke="#005b9f" stroke-width="0.18" stroke-linejoin="round" text-anchor="middle" textLength="23.0" lengthAdjust="spacingAndGlyphs">NOV</text>
<path d="M709.95,1915.50 L731.64,1953.31 A25.0,25.0 0 1 1 688.26,1953.31 Z" fill="#005b9f"/>
<text x="709.0" y="1972.6" font-size="18.10" font-weight="bold" fill="#fff" stroke="#fff" stroke-width="0.28" stroke-linejoin="round" text-anchor="middle" textLength="35.3" lengthAdjust="spacingAndGlyphs">34%</text>
<text x="708.8" y="2008.7" font-size="12.03" font-weight="bold" fill="#005b9f" stroke="#005b9f" stroke-width="0.18" stroke-linejoin="round" text-anchor="middle" textLength="18.2" lengthAdjust="spacingAndGlyphs">DIC</text>
</svg></body></html>
